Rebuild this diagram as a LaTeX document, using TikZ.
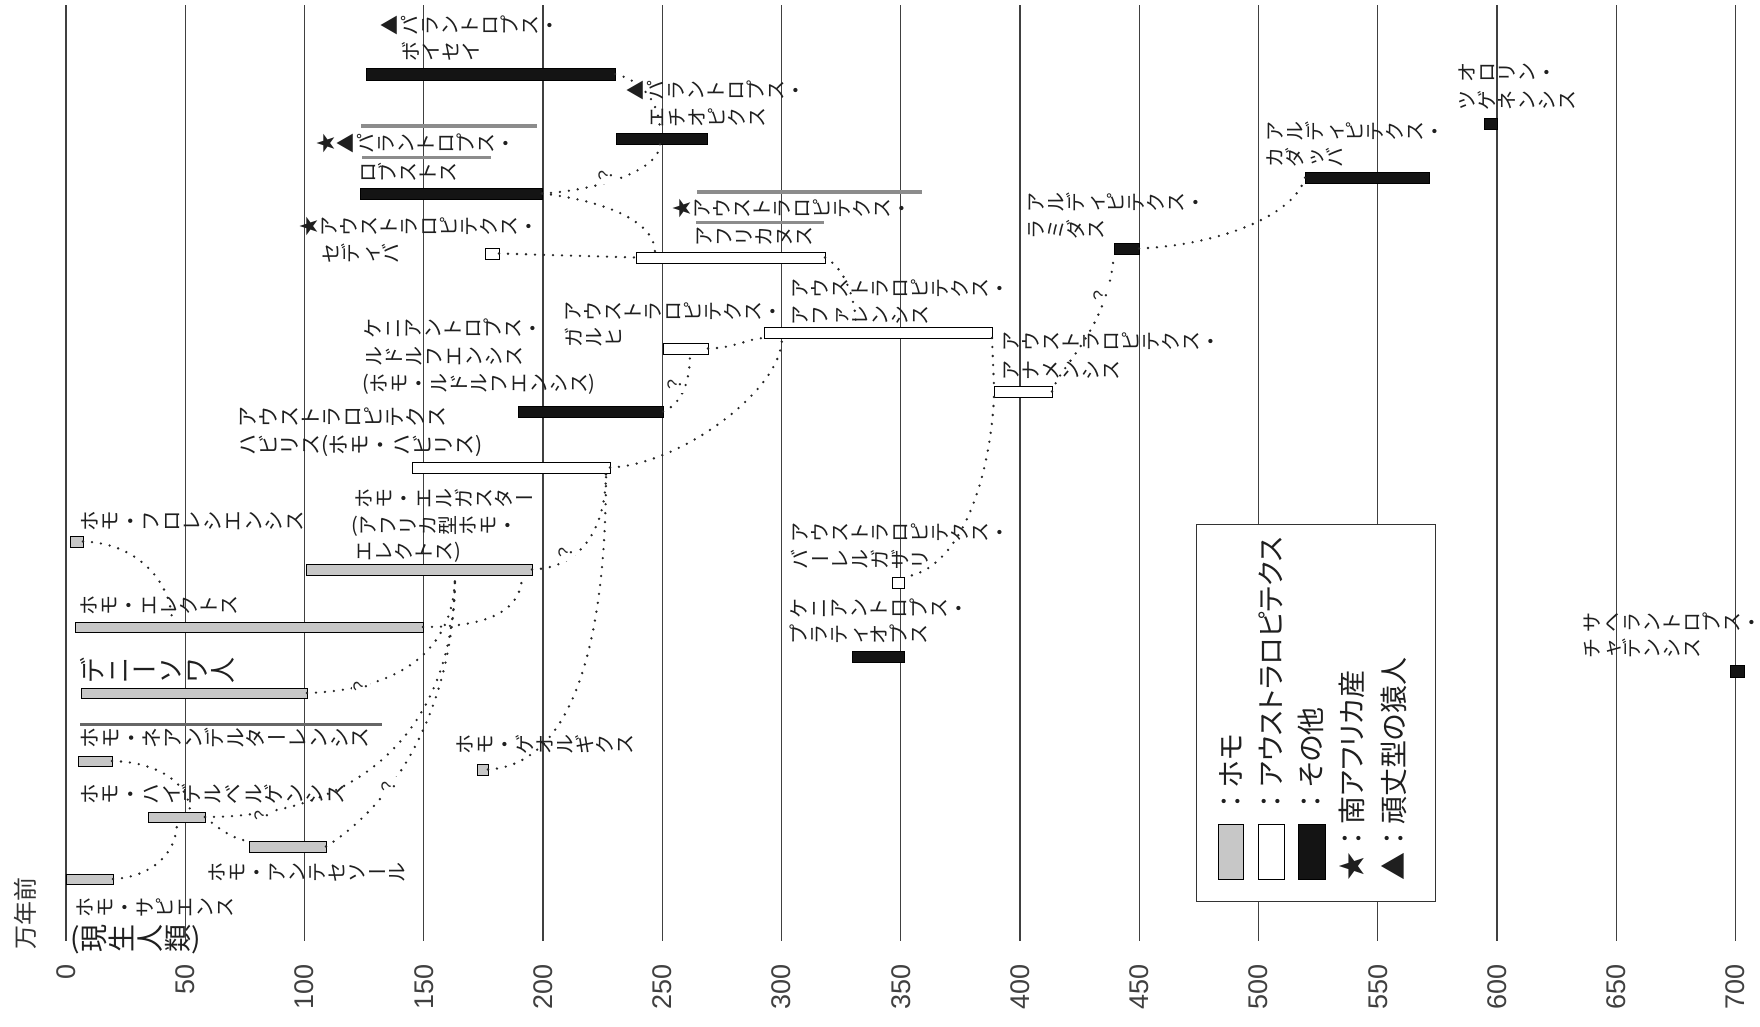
\documentclass[tikz,border=0pt]{standalone}
\usepackage{fontspec}
\usepackage{graphicx}
\setmainfont{Liberation Sans}
\newfontfamily\jp{Noto Sans CJK JP}
\newfontfamily\jpp[RawFeature=+palt]{Noto Sans CJK JP}
\newcommand\tgrot[1]{\rotatebox[origin=c]{90}{\makebox[1em]{\smash{#1}}\rule[-.12em]{0pt}{1em}}}
\newcommand\tgflat[1]{\smash{#1}\rule[-.12em]{0pt}{1em}}
\newcommand\fwc{{\jp ：}}
\makeatletter
\def\tg@end{\tg@end}
\newcommand\tg[1]{\tg@loop#1\tg@end}
\def\tg@loop#1{\ifx#1\tg@end\else\tg@char{#1}\expandafter\tg@loop\fi}
\def\tg@char#1{\ifx#1ー\tgflat{#1}\else\ifx#1(\tgflat{#1}\else\ifx#1)\tgflat{#1}\else\tgrot{#1}\fi\fi\fi}
\makeatother
\newcommand\barnode[6]{%
  \pgfmathsetmacro\bw{#5-#3}\pgfmathsetmacro\bh{#6-#4}%
  \node[#2, minimum width=\bw pt, minimum height=\bh pt] (#1) at (#3,#4) {};}
\begin{document}
\begin{tikzpicture}[x=1pt, y=-1pt,
  gridline/.style={line width=1.1pt, draw=black!75},
  axlbl/.style={rotate=90, anchor=east, inner sep=0pt, font=\fontsize{27}{27}\selectfont, text=black!75},
  lbl/.style={anchor=west, inner sep=0pt, font=\jp\fontsize{20}{20}\selectfont, text=black!88},
  bar/.style={draw=black, line width=1pt, inner sep=0pt, outer sep=0pt, anchor=north west},
  homo/.style={bar, fill=black!22},
  aus/.style={bar, fill=white},
  oth/.style={bar, fill=black!92},
  conn/.style={draw=black!85, line width=2.6pt, line cap=round, dash pattern=on 0pt off 9pt},
  hl/.style={draw=black!45, line width=3.8pt},
  qm/.style={font=\jp\fontsize{18}{18}\selectfont, inner sep=0pt, fill=white, text=black!85},
  legtxt/.style={rotate=90, anchor=west, inner sep=0pt, font=\jpp\fontsize{28}{28}\selectfont, text=black!88}]
\useasboundingbox (0,0) rectangle (1760,1026);
\fill[white] (0,0) rectangle (1760,1026);
% grid and axis
\foreach \v in {0,50,...,700}{
  \pgfmathsetmacro\gx{66+2.385*\v}
  \draw[gridline] (\gx,5) -- (\gx,941);
  \node[axlbl] (ax\v) at (\gx,964) {\v};
}
\node[rotate=90, inner sep=0pt, font=\jp\fontsize{24}{24}\selectfont, text=black!80] (unit) at (25,913) {万年前};
% highlight lines
\draw[hl] (361,126) -- (537,126);
\draw[hl] (362,157.5) -- (491,157.5);
\draw[hl] (697,192) -- (922,192);
\draw[hl] (696,222.5) -- (824,222.5);
\draw[hl, draw=black!60] (80,724.5) -- (382,724.5);
% bars: Homo
\barnode{bsap}{homo}{66}{874}{113}{884}
\barnode{bheid}{homo}{148}{812}{205}{822}
\barnode{bante}{homo}{249}{841}{326}{852}
\barnode{bnean}{homo}{78}{756}{112}{766}
\barnode{bdeni}{homo}{81}{688}{307}{698}
\barnode{berec}{homo}{75}{622}{423}{632}
\barnode{bflor}{homo}{70}{536}{83}{547}
\barnode{berga}{homo}{306}{564}{532}{575}
\barnode{bgeor}{homo}{477}{764}{488}{775}
% bars: Australopithecus
\barnode{bsedi}{aus}{485}{248}{499}{259}
\barnode{bafri}{aus}{636}{252}{825}{263}
\barnode{bgarh}{aus}{663}{343}{708}{354}
\barnode{bafar}{aus}{764}{327}{992}{338}
\barnode{bbahr}{aus}{892}{577}{904}{588}
\barnode{banam}{aus}{994}{386}{1052}{397}
\barnode{bhabi}{aus}{412}{462}{610}{473}
% bars: others
\barnode{bbois}{oth}{366}{68}{615}{80}
\barnode{bethi}{oth}{616}{133}{707}{144}
\barnode{brobu}{oth}{360}{188}{542}{199}
\barnode{brudo}{oth}{518}{406}{663}{417}
\barnode{bplat}{oth}{852}{651}{904}{662}
\barnode{brami}{oth}{1114}{243}{1139}{254}
\barnode{bkada}{oth}{1305}{172}{1429}{183}
\barnode{borro}{oth}{1484}{118}{1497}{129}
\barnode{bsahe}{oth}{1730}{665}{1744}{677}
% connector end points
\coordinate (heidB) at (177,822);
\coordinate (heidT) at (190,812);
\coordinate (ergB1) at (455,575);
\coordinate (ergB2) at (522,575);
\coordinate (erecT) at (172,622);
\coordinate (habiB) at (606,473);
\coordinate (afarB) at (782,338);
\coordinate (afarT) at (856,327);
\coordinate (garhB) at (690,354);
\coordinate (afriT) at (655,252);
\coordinate (ethiB) at (660,144);
\coordinate (ethiT) at (660,133);
% dotted connectors
\draw[conn] (bsap.east) .. controls (150,877) and (177,855) .. (heidB);
\draw[conn] (bnean.east) .. controls (160,762) and (190,785) .. (heidT);
\draw[conn] (bheid.east) .. controls (220,830) and (235,840) .. (bante.north west);
\draw[conn] (bheid.east) .. controls (360,817) and (455,730) .. (ergB1);
\draw[conn] (bdeni.east) .. controls (400,690) and (455,650) .. (ergB1);
\draw[conn] (bante.east) .. controls (400,800) and (455,700) .. (ergB1);
\draw[conn] (berec.east) .. controls (490,627) and (522,610) .. (ergB2);
\draw[conn] (bflor.east) .. controls (140,543) and (172,585) .. (erecT);
\draw[conn] (berga.east) .. controls (580,568) and (606,530) .. (habiB);
\draw[conn] (bgeor.east) .. controls (570,765) and (606,650) .. (habiB);
\draw[conn] (bhabi.east) .. controls (680,465) and (782,390) .. (afarB);
\draw[conn] (brudo.east) .. controls (680,405) and (690,385) .. (garhB);
\draw[conn] (bgarh.east) .. controls (735,348) and (750,338) .. (bafar.south west);
\draw[conn] (bafri.east) .. controls (845,268) and (856,300) .. (afarT);
\draw[conn] (brobu.east) .. controls (600,200) and (655,220) .. (afriT);
\draw[conn] (brobu.east) .. controls (600,190) and (660,170) .. (ethiB);
\draw[conn] (bbois.east) .. controls (640,80) and (660,100) .. (ethiT);
\draw[conn] (bsedi.east) -- (bafri.west);
\draw[conn] (bafar.south east) -- (banam.north west);
\draw[conn] (banam.south west) .. controls (990,480) and (960,570) .. (bbahr.north east);
\draw[conn] (banam.east) .. controls (1060,365) and (1108,330) .. (brami.south west);
\draw[conn] (brami.east) .. controls (1220,245) and (1295,215) .. (bkada.west);
% question marks
\node[qm] (q1) at (262,815) {\tgrot{？}};
\node[qm] (q2) at (361,686) {\tgrot{？}};
\node[qm] (q3) at (389,786) {\tgrot{？}};
\node[qm] (q4) at (566,552) {\tgrot{？}};
\node[qm] (q5) at (675,384) {\tgrot{？}};
\node[qm] (q6) at (606,175) {\tgrot{？}};
\node[qm] (q7) at (1101,295) {\tgrot{？}};
% legend
\node[draw=black!80, line width=1pt, fill=white, inner sep=0pt, anchor=north west, minimum width=239pt, minimum height=377pt] (legend) at (1196,524) {};
\barnode{lgh}{homo}{1218}{824}{1243}{879}
\barnode{lga}{aus}{1258}{824}{1284}{879}
\barnode{lgo}{oth}{1298}{824}{1325}{879}
\node[legtxt] (lt1) at (1231,816) {\fwc ホモ};
\node[legtxt] (lt2) at (1271,816) {\fwc アウストラロピテクス};
\node[legtxt] (lt3) at (1311,816) {\fwc その他};
\node[legtxt] (lt4) at (1352,881) {★\fwc 南アフリカ産};
\node[legtxt] (lt5) at (1394,881) {▲\fwc 頑丈型の猿人};
% labels
\node[lbl] (bois1) at (380,25) {\tg{▲パラントロプス・}};
\node[lbl] (bois2) at (401,51) {\tg{ボイセイ}};
\node[lbl] (ethi1) at (626,90) {\tg{▲パラントロプス・}};
\node[lbl] (ethi2) at (647,117) {\tg{エチオピクス}};
\node[lbl] (robu1) at (316,143) {\tg{★▲パラントロプス・}};
\node[lbl] (robu2) at (358,172) {\tg{ロブストス}};
\node[lbl] (sedi1) at (299,226) {\tg{★アウストラロピテクス・}};
\node[lbl] (sedi2) at (321,253) {\tg{セディバ}};
\node[lbl] (afri1) at (672,208) {\tg{★アウストラロピテクス・}};
\node[lbl] (afri2) at (694,236) {\tg{アフリカヌス}};
\node[lbl] (garh1) at (563,311) {\tg{アウストラロピテクス・}};
\node[lbl] (garh2) at (564,337) {\tg{ガルヒ}};
\node[lbl] (afar1) at (790,288) {\tg{アウストラロピテクス・}};
\node[lbl] (afar2) at (790,315) {\tg{アファレンシス}};
\node[lbl] (rudo1) at (363,328) {\tg{ケニアントロプス・}};
\node[lbl] (rudo2) at (364,356) {\tg{ルドルフエンシス}};
\node[lbl] (rudo3) at (362,383) {\tg{(ホモ・ルドルフエンシス)}};
\node[lbl, font=\jp\fontsize{21}{21}\selectfont] (habi1) at (237,416.5) {\tg{アウストラロピテクス}};
\node[lbl, font=\jp\fontsize{21}{21}\selectfont] (habi2) at (237,445) {\tg{ハビリス(ホモ・ハビリス)}};
\node[lbl] (erga1) at (354,498) {\tg{ホモ・エルガスター}};
\node[lbl] (erga2) at (351,525) {\tg{(アフリカ型ホモ・}};
\node[lbl] (erga3) at (354,551) {\tg{エレクトス)}};
\node[lbl, font=\jp\fontsize{20.5}{20.5}\selectfont] (flor) at (79,521) {\tg{ホモ・フロレシエンシス}};
\node[lbl] (erec) at (79,605) {\tg{ホモ・エレクトス}};
\node[lbl, font=\jp\fontsize{26}{26}\selectfont] (deni) at (79,670) {\tg{デニーソワ人}};
\node[lbl, font=\jp\fontsize{20.8}{20.8}\selectfont] (nean) at (79,738) {\tg{ホモ・ネアンデルターレンシス}};
\node[lbl, font=\jp\fontsize{20.5}{20.5}\selectfont] (heid) at (79,794) {\tg{ホモ・ハイデルベルゲンシス}};
\node[lbl] (ante) at (207,872) {\tg{ホモ・アンテセソール}};
\node[lbl] (sap1) at (75,907.5) {\tg{ホモ・サピエンス}};
\node[lbl, font=\jp\fontsize{28}{28}\selectfont] (sap2) at (70,938) {\tg{(現生人類)}};
\node[lbl] (geor) at (455,744) {\tg{ホモ・ゲオルギクス}};
\node[lbl] (bahr1) at (790,532.5) {\tg{アウストラロピテクス・}};
\node[lbl] (bahr2) at (790,559) {\tg{バーレルガザリ}};
\node[lbl] (plat1) at (789,608) {\tg{ケニアントロプス・}};
\node[lbl] (plat2) at (789,634) {\tg{プラティオプス}};
\node[lbl] (anam1) at (1001,341) {\tg{アウストラロピテクス・}};
\node[lbl] (anam2) at (1001,370) {\tg{アナメンシス}};
\node[lbl] (rami1) at (1026,202) {\tg{アルディピテクス・}};
\node[lbl] (rami2) at (1026,229) {\tg{ラミダス}};
\node[lbl] (kada1) at (1265,131) {\tg{アルディピテクス・}};
\node[lbl] (kada2) at (1265,157) {\tg{カダッバ}};
\node[lbl] (orro1) at (1457,72) {\tg{オロリン・}};
\node[lbl] (orro2) at (1457,100) {\tg{ツゲネンシス}};
\node[lbl] (sahe1) at (1582,622) {\tg{サヘラントロプス・}};
\node[lbl] (sahe2) at (1582,648) {\tg{チャデンシス}};
\end{tikzpicture}
\end{document}
